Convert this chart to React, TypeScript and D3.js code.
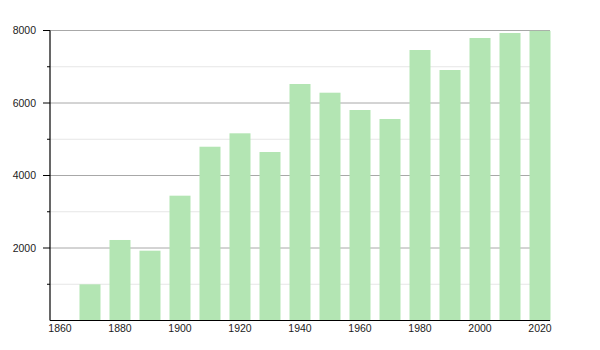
import React from "react";
import * as d3 from "d3";

const years = [1870, 1880, 1890, 1900, 1910, 1920, 1930, 1940, 1950, 1960, 1970, 1980, 1990, 2000, 2010, 2020];
const population = [998, 2221, 1926, 3443, 4794, 5164, 4648, 6524, 6284, 5807, 5559, 7462, 6910, 7793, 7931, 7990];
const xTickLabels = [1860, 1880, 1900, 1920, 1940, 1960, 1980, 2000, 2020];
const yMajorTicks = [2000, 4000, 6000, 8000];
const yMinorTicks = [1000, 3000, 5000, 7000];

export default function App() {
  const W = 600, H = 350;
  const left = 50, right = 550, top = 30.5, bottom = 320.5;
  const x = d3.scaleLinear().domain([1856.67, 2023.33]).range([left, right]);
  const y = d3.scaleLinear().domain([0, 8000]).range([bottom, top]);
  const barW = x(1877) - x(1870);
  const font = "'Liberation Sans', Arial, Helvetica, sans-serif";
  return (
    <svg width={W} height={H} style={{ position: "absolute", left: 0, top: 0 }}>
      <rect width={W} height={H} fill="#fff" />
      {yMinorTicks.map((t) => (
        <g key={"mi" + t}>
          <line x1={left} x2={right} y1={y(t)} y2={y(t)} stroke="#e6e6e6" strokeWidth={1} />
          <line x1={left - 3} x2={left} y1={y(t)} y2={y(t)} stroke="#000" strokeWidth={1} />
        </g>
      ))}
      {yMajorTicks.map((t) => (
        <g key={"ma" + t}>
          <line x1={left} x2={right} y1={y(t)} y2={y(t)} stroke="#a8a8a8" strokeWidth={1} />
          <line x1={left - 7} x2={left} y1={y(t)} y2={y(t)} stroke="#000" strokeWidth={1} />
          <text x={36} y={y(t) + 3.5} textAnchor="end" fontSize={10.5} fontFamily={font} fill="#222">
            {t}
          </text>
        </g>
      ))}
      {years.map((yr, i) => (
        <rect
          key={yr}
          x={x(yr) - barW / 2}
          y={y(population[i])}
          width={barW}
          height={y(0) - y(population[i])}
          fill="#b3e5b3"
        />
      ))}
      <line x1={left} x2={left} y1={top} y2={bottom} stroke="#000" strokeWidth={1.2} />
      <line x1={left} x2={right} y1={bottom} y2={bottom} stroke="#000" strokeWidth={1.2} />
      {xTickLabels.map((t) => (
        <text key={"x" + t} x={x(t)} y={332} textAnchor="middle" fontSize={10.5} fontFamily={font} fill="#222">
          {t}
        </text>
      ))}
    </svg>
  );
}
